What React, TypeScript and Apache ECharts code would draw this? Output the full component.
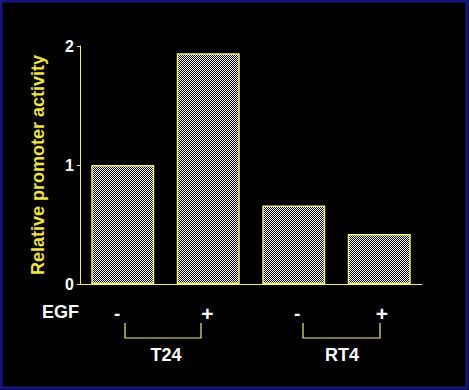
import React, { useEffect, useRef } from "react";
import * as echarts from "echarts";

const categories = ["T24 -", "T24 +", "RT4 -", "RT4 +"];
const egfLabels = ["-", "+", "-", "+"];
const activity = [1.0, 1.94, 0.66, 0.42];
const yTicks = [0, 1, 2];
const groupNames = ["T24", "RT4"];

const YELLOW_LINE = "#f2ec78";
const YELLOW_TEXT = "#eee447";

function makeChecker(): HTMLCanvasElement {
  const c = document.createElement("canvas");
  c.width = 2;
  c.height = 2;
  const ctx = c.getContext("2d")!;
  ctx.fillStyle = "#000000";
  ctx.fillRect(0, 0, 2, 2);
  ctx.fillStyle = "#ffffff";
  ctx.fillRect(0, 0, 1, 1);
  ctx.fillRect(1, 1, 1, 1);
  return c;
}

export default function App() {
  const ref = useRef<HTMLDivElement>(null);
  useEffect(() => {
    if (!ref.current) return;
    const chart = echarts.init(ref.current, null, { renderer: "svg" });
    const pattern = { image: makeChecker(), repeat: "repeat" };
    const bold = "Liberation Sans, Arial, sans-serif";
    const base = {
      color: "#ffffff",
      fontFamily: bold,
      fontWeight: "bold",
      lineHeight: 20,
    };
    chart.setOption({
      animation: false,
      backgroundColor: "#000000",
      grid: { left: 80, top: 46, width: 342, height: 238, containLabel: false },
      xAxis: {
        type: "category",
        data: categories,
        axisLine: { lineStyle: { color: YELLOW_LINE, width: 1 } },
        axisTick: { show: false },
        axisLabel: {
          margin: 19,
          formatter: (_v: string, i: number) =>
            "{s" + i + "|" + egfLabels[i] + "}",
          rich: {
            s0: { ...base, fontSize: 19, padding: [0, 11, 0, 0] },
            s1: { ...base, fontSize: 21, padding: [0, 2, 0, 0] },
            s2: { ...base, fontSize: 19, padding: [0, 0, 0, 7] },
            s3: { ...base, fontSize: 21, padding: [0, 0, 0, 5] },
          },
        },
      },
      yAxis: {
        type: "value",
        min: yTicks[0],
        max: yTicks[yTicks.length - 1],
        interval: 1,
        name: "Relative promoter activity",
        nameLocation: "middle",
        nameRotate: 90,
        nameGap: 33,
        nameTextStyle: {
          color: YELLOW_TEXT,
          fontFamily: bold,
          fontWeight: "bold",
          fontSize: 18,
        },
        splitLine: { show: false },
        axisLine: { show: true, lineStyle: { color: YELLOW_LINE, width: 1 } },
        axisTick: { show: true, length: 3, lineStyle: { color: YELLOW_LINE } },
        axisLabel: {
          color: "#ffffff",
          fontFamily: bold,
          fontWeight: "bold",
          fontSize: 16,
          margin: 6,
        },
      },
      series: [
        {
          type: "bar",
          data: activity,
          barWidth: 63,
          itemStyle: {
            color: pattern,
            borderColor: YELLOW_LINE,
            borderWidth: 1.5,
          },
        },
      ],
      graphic: [
        {
          type: "rect",
          shape: { x: 1, y: 1, width: 466, height: 387 },
          style: { fill: "none", stroke: "#16167e", lineWidth: 3 },
          silent: true,
        },
        {
          type: "text",
          x: 42,
          y: 312,
          style: {
            text: "EGF",
            fill: "#ffffff",
            font: "bold 18px " + bold,
            verticalAlign: "middle",
          },
        },
        {
          type: "polyline",
          shape: { points: [[125, 323], [125, 338], [201, 338], [201, 323]] },
          style: { stroke: YELLOW_LINE, lineWidth: 1.2, fill: "none" },
        },
        {
          type: "polyline",
          shape: { points: [[303, 323], [303, 338], [380, 338], [380, 323]] },
          style: { stroke: YELLOW_LINE, lineWidth: 1.2, fill: "none" },
        },
        {
          type: "text",
          x: 166,
          y: 355,
          style: {
            text: groupNames[0],
            fill: "#ffffff",
            font: "bold 18px " + bold,
            align: "center",
            verticalAlign: "middle",
          },
        },
        {
          type: "text",
          x: 342,
          y: 355,
          style: {
            text: groupNames[1],
            fill: "#ffffff",
            font: "bold 18px " + bold,
            align: "center",
            verticalAlign: "middle",
          },
        },
      ],
    });
    return () => chart.dispose();
  }, []);
  return (
    <div
      ref={ref}
      style={{ position: "fixed", left: 0, top: 0, width: 469, height: 390 }}
    />
  );
}
